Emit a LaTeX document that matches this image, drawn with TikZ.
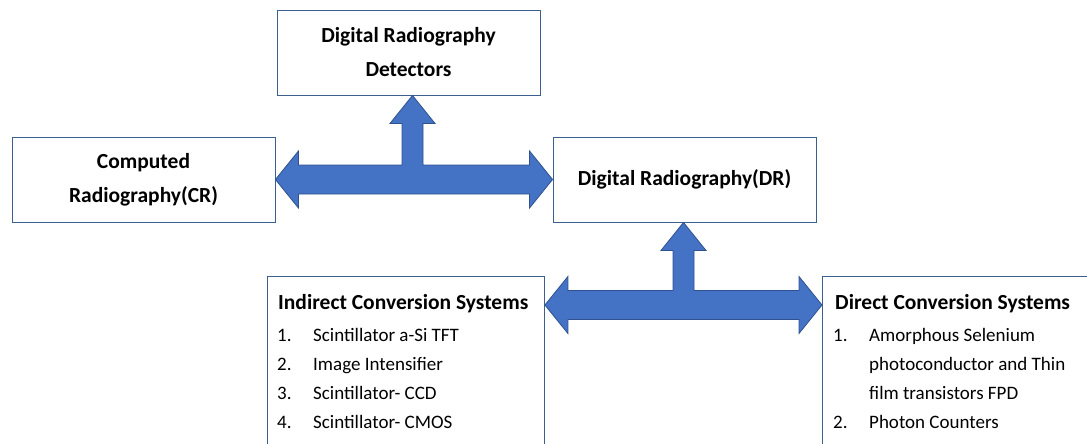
\documentclass[tikz,border=0pt]{standalone}
\usepackage{fontspec}
\setmainfont{Carlito}
\usetikzlibrary{positioning, calc}

\definecolor{arrowblue}{HTML}{4472C4}
\definecolor{edgeblue}{HTML}{2F528F}
\definecolor{boxline}{HTML}{3B5F8E}

% numbered line of a list
\newcommand{\numitem}[2]{\makebox[36pt][l]{#1}#2}

% T-shaped double arrow: left tip, right tip, top tip
\newcommand{\teearrow}[3]{%
  \filldraw[arrowfill]
    (#1) -- ($(#1)+(23,-28.5)$) -- ($(#1)+(23,-14.5)$)
    -- ($(#3 |- #1)+(-10.5,-14.5)$) -- ($(#3)+(-10.5,28)$) -- ($(#3)+(-22.5,28)$)
    -- (#3)
    -- ($(#3)+(22.5,28)$) -- ($(#3)+(10.5,28)$) -- ($(#3 |- #1)+(10.5,-14.5)$)
    -- ($(#2)+(-23,-14.5)$) -- ($(#2)+(-23,-28.5)$)
    -- (#2)
    -- ($(#2)+(-23,28.5)$) -- ($(#2)+(-23,14.5)$)
    -- ($(#1)+(23,14.5)$) -- ($(#1)+(23,28.5)$) -- cycle;}

\begin{document}
\begin{tikzpicture}[
    x=1pt, y=-1pt,
    box/.style={rectangle, draw=boxline, line width=0.9pt, fill=white, minimum width=263pt, minimum height=85pt, inner sep=0pt, align=center, font=\fontsize{21.5}{34}\selectfont\bfseries},
    listbox/.style={rectangle, draw=boxline, line width=0.9pt, fill=white, minimum height=200pt, inner sep=0pt, anchor=north west},
    headtext/.style={inner sep=0pt, anchor=base west, font=\fontsize{21.5}{26}\selectfont\bfseries},
    listtext/.style={inner sep=0pt, anchor=base west, align=left, font=\fontsize{19}{29}\selectfont},
    arrowfill/.style={fill=arrowblue, draw=edgeblue, line width=0.8pt, line join=miter}
]
\useasboundingbox (0,0) rectangle (1087,444);
\clip (0,0) rectangle (1087,444);

% === Boxes ===
\node[box] (det) at (408.5,52.5) {Digital Radiography\\Detectors};
\node[box] (cr) at (143.5,179.5) {Computed\\Radiography(CR)};
\node[box] (dr) at (684.5,179.5) {Digital Radiography(DR)};

\node[listbox, minimum width=277pt] (ind) at (267,276) {};
\node[listbox, minimum width=300pt] (dir) at (822,276) {};

% === List texts ===
\node[headtext] (indhead) at ([xshift=11pt, yshift=-33pt]ind.north west) {Indirect Conversion Systems};
\node[listtext] (indlist) at ([xshift=10pt, yshift=-152pt]ind.north west) {%
  \numitem{1.}{Scintillator a-Si TFT}\\
  \numitem{2.}{Image Intensifier}\\
  \numitem{3.}{Scintillator- CCD}\\
  \numitem{4.}{Scintillator- CMOS}};

\node[headtext] (dirhead) at ([xshift=13pt, yshift=-33pt]dir.north west) {Direct Conversion Systems};
\node[listtext] (dirlist) at ([xshift=11pt, yshift=-152pt]dir.north west) {%
  \numitem{1.}{Amorphous Selenium}\\
  \hspace*{36pt}photoconductor and Thin\\
  \hspace*{36pt}film transistors FPD\\
  \numitem{2.}{Photon Counters}};

% === Arrow tips ===
\coordinate (crtip) at (cr.east);
\coordinate (drtip) at (dr.west);
\coordinate (dettip) at ([xshift=4pt]det.south);
\coordinate (indtip) at ([yshift=-29pt]ind.north east);
\coordinate (dirtip) at ([yshift=-29pt]dir.north west);
\coordinate (drbot) at ([xshift=-1pt]dr.south);

% === Arrows ===
\teearrow{crtip}{drtip}{dettip}
\teearrow{indtip}{dirtip}{drbot}

\end{tikzpicture}
\end{document}
